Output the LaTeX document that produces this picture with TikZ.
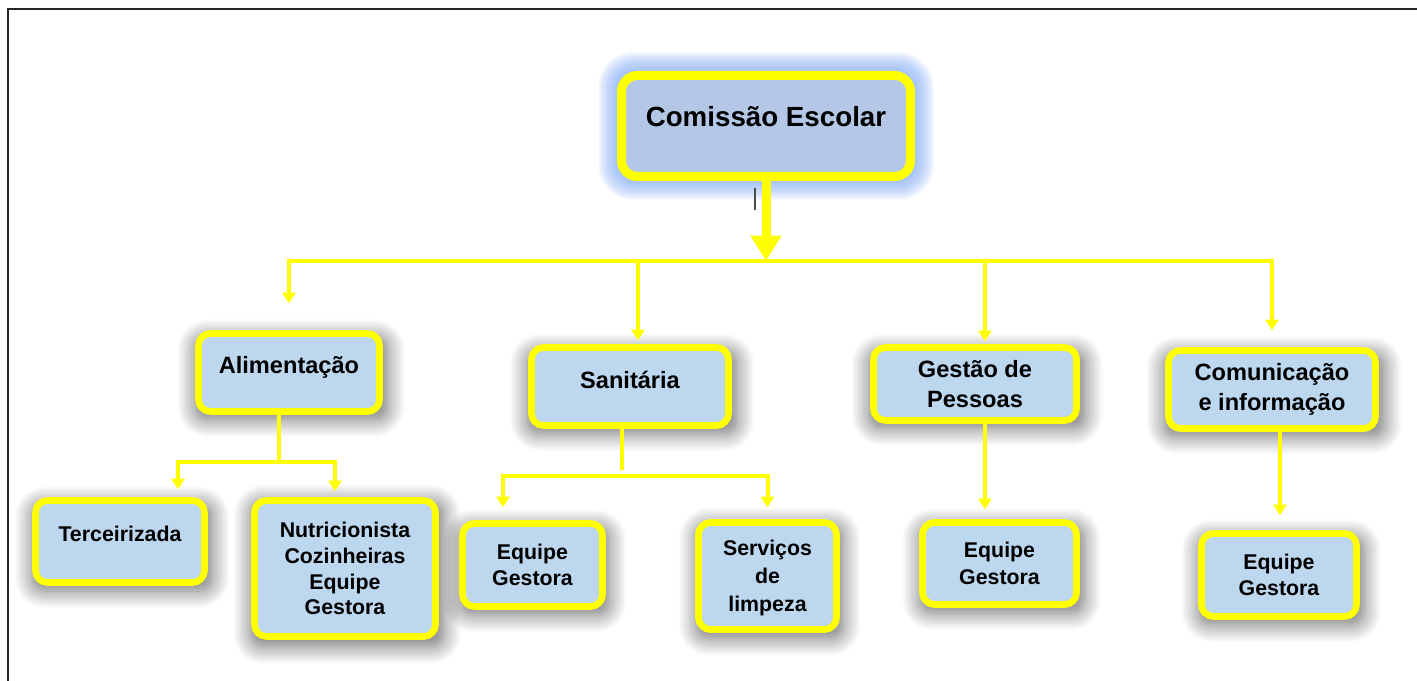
\documentclass[tikz,border=0pt]{standalone}
\usepackage{fontspec}
\setmainfont{Liberation Sans}
\usetikzlibrary{arrows.meta,shadows.blur,calc}
\definecolor{ylw}{HTML}{FFFF00}
\definecolor{boxfill}{HTML}{BDD7EE}
\definecolor{rootfill}{HTML}{B4C7E7}
\definecolor{glow}{HTML}{86ADF5}
\begin{document}
\begin{tikzpicture}[x=0.75pt,y=-0.75pt,
  box/.style={draw=ylw, fill=boxfill, line width=5pt, rounded corners=9pt, inner sep=0pt, align=center,
    font=\bfseries\fontsize{16}{20}\selectfont,
    blur shadow={shadow xshift=1.5pt, shadow yshift=-4pt, shadow scale=1.07, shadow blur radius=12pt, shadow opacity=55, shadow blur steps=14}},
  lvl/.style={box, font=\bfseries\fontsize{17.7}{22}\selectfont},
  rootbox/.style={draw=ylw, fill=rootfill, line width=6.75pt, rounded corners=12pt, inner sep=0pt, align=center,
    font=\bfseries\fontsize{20.8}{25}\selectfont},
  wh/.style 2 args={minimum width=#1*0.75pt, minimum height=#2*0.75pt},
  conn/.style={draw=ylw, line width=3.5pt},
  conntwo/.style={draw=ylw, line width=3pt},
  tip/.style={-{Triangle[width=10pt,length=8pt]}},
  bigtip/.style={draw=ylw, line width=6.75pt, -{Triangle[width=22pt,length=19pt]}}
]
\useasboundingbox (0,0) rectangle (1417,681);
\draw[line width=1.5pt, black!85] (1417,9) -- (8,9) -- (8,681);

% glow behind root
\foreach \r in {1,3,...,23} {
  \fill[glow, opacity=0.12, rounded corners=12pt+\r*0.6pt] (621.5-\r,75.5-\r) rectangle (910.5+\r,176.5+\r);
}
% root
\node[rootbox, wh={289}{101}, text height=12pt, text depth=10.5pt] (root) at (766,126) {Comissão Escolar};

% level 1
\node[lvl, wh={181}{78}, text height=10pt, text depth=7.8pt] (alim) at (289,372.5) {Alimentação};
\node[lvl, wh={197}{78}, text height=10pt, text depth=7.1pt] (san) at (630,386.5) {Sanitária};
\node[lvl, wh={203}{73}] (gest) at (975,384) {Gestão de\\Pessoas};
\node[lvl, wh={207}{78}] (com) at (1272,389.5) {Comunicação\\e informação};

% level 2
\node[box, wh={169}{82}, text height=9pt, text depth=8.7pt] (terc) at (120,541.5) {Terceirizada};
\node[box, wh={181}{136}] (nutr) at (345,568.5) {Nutricionista\\[-0.6pt]Cozinheiras\\[-0.6pt]Equipe\\[-0.6pt]Gestora};
\node[box, wh={140}{83}] (eqS) at (532.5,565) {Equipe\\Gestora};
\node[box, wh={138}{107}, font=\bfseries\fontsize{16}{20.8}\selectfont, text depth=0pt] (serv) at (767.5,576) {Serviços\\de\\limpeza};
\node[box, wh={154}{82}] (eqG) at (999.5,563.5) {Equipe\\Gestora};
\node[box, wh={155}{83}] (eqC) at (1279,575) {Equipe\\Gestora};

% root connector
\coordinate (bar) at (0,261);
\draw[bigtip] (root.south) -- (root.south |- bar);
\draw[conn, line cap=rect] (alim.north |- bar) -- (com.north |- bar);
\draw[conn, tip] (alim.north |- bar) -- ($(alim.north)+(0,-27)$);
\coordinate (sanin) at ($(san.north)+(8,-4)$);
\draw[conn, tip] (sanin |- bar) -- (sanin);
\coordinate (gestin) at ($(gest.north)+(10,-3)$);
\draw[conn, tip] (gestin |- bar) -- (gestin);
\draw[conn, tip] (com.north |- bar) -- ($(com.north)+(0,-17)$);

% alimentacao children
\coordinate (aj) at ($(alim.south)+(-10,47.5)$);
\coordinate (tercin) at ($(terc.north)+(58,-8)$);
\coordinate (nutrin) at ($(nutr.north)+(-10,-6)$);
\draw[conntwo, tip] ($(alim.south)+(-10,0)$) -- (aj) -| (tercin);
\draw[conntwo, tip] (aj) -| (nutrin);

% sanitaria children
\coordinate (sj) at ($(san.south)+(-8,47.5)$);
\draw[conntwo] ($(san.south)+(-8,0)$) -- ($(san.south)+(-8,41)$);
\draw[conntwo, tip] (sj) -| ($(eqS.north)+(-29.5,-13)$);
\draw[conntwo, tip] (sj) -| ($(serv.north)+(0,-12)$);

% gestao child
\coordinate (gx) at ($(eqG.north)+(-14.5,-10)$);
\draw[conntwo, tip] (gx |- gest.south) -- (gx);

% comunicacao child
\coordinate (cx) at ($(eqC.north)+(1,-15)$);
\draw[conntwo, tip] (cx |- com.south) -- (cx);

% stray cursor mark
\draw[line width=0.8pt, black!70] (755,188) -- (755,210);
\end{tikzpicture}
\end{document}
